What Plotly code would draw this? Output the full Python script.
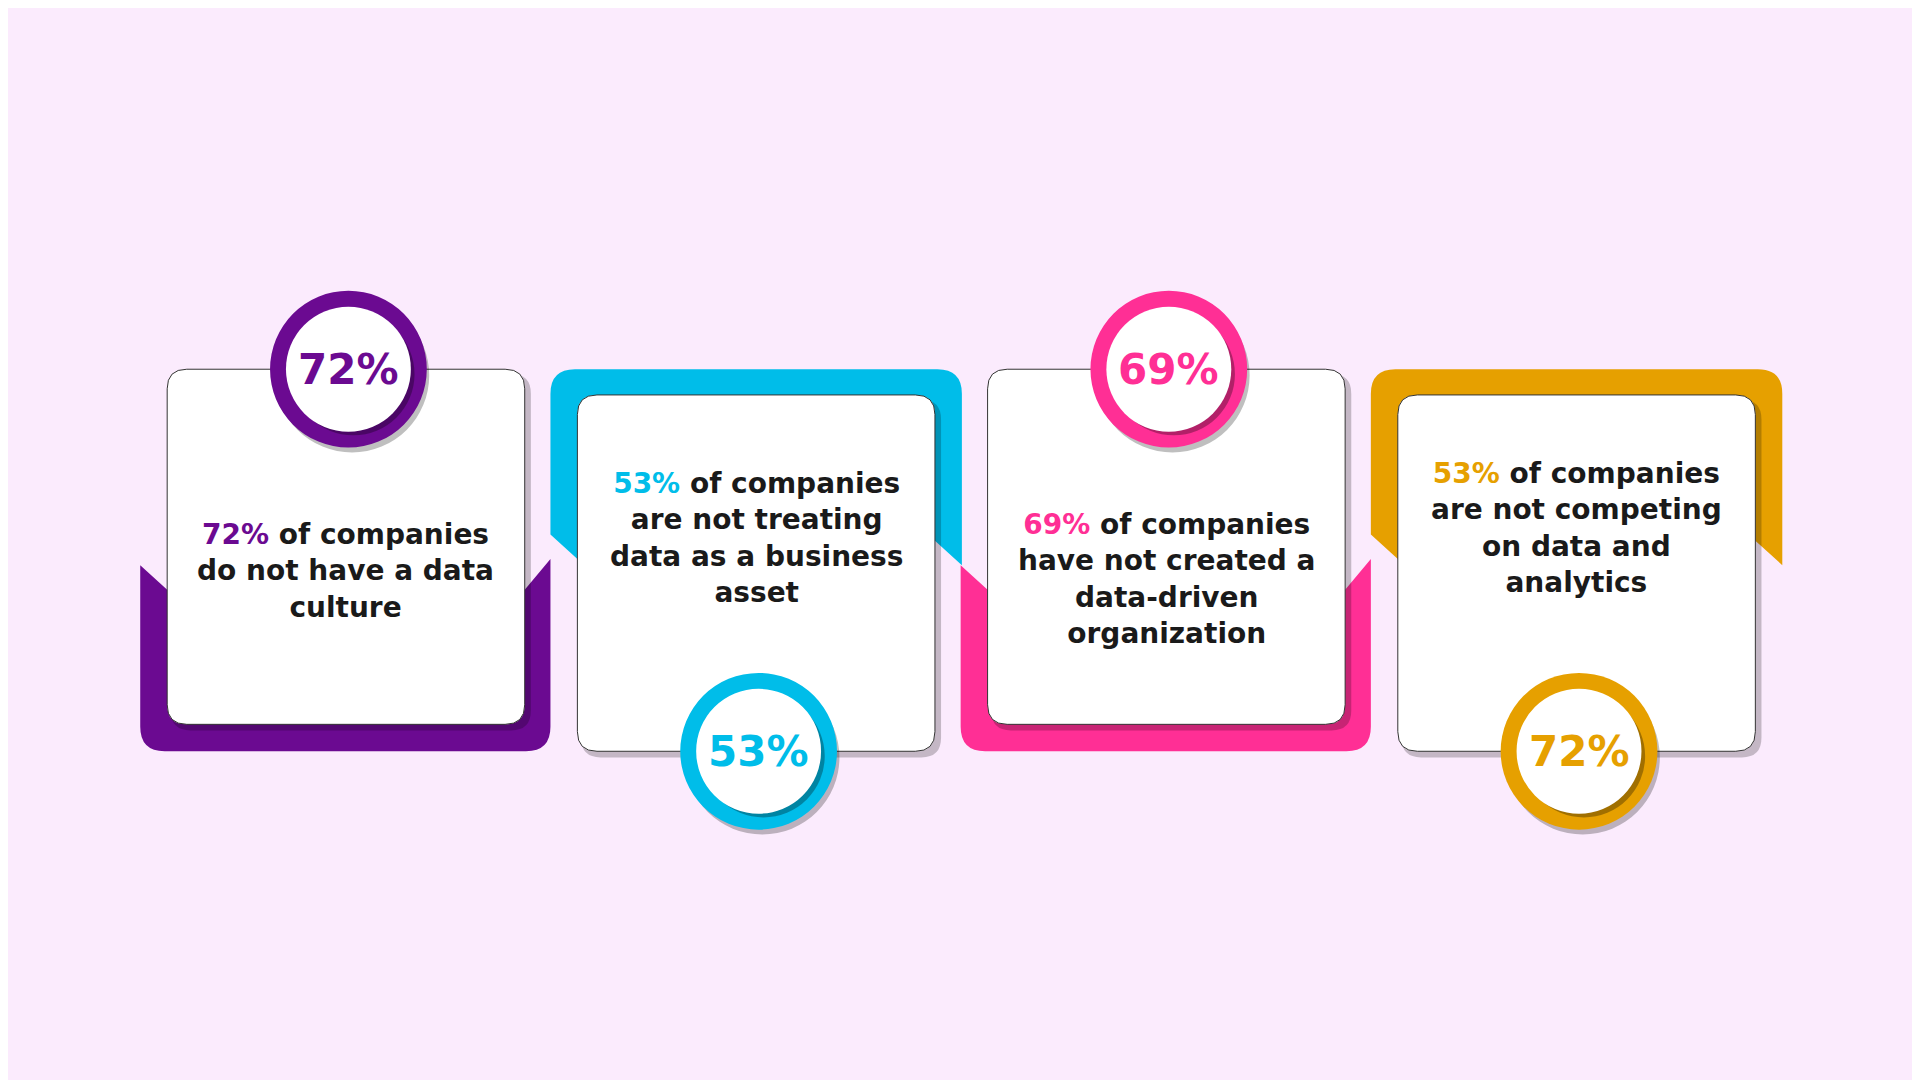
import plotly.graph_objects as go

pcts = ["72%", "53%", "69%", "72%"]
body_pcts = ["72%", "53%", "69%", "53%"]
texts = ["of companies<br>do not have a data<br>culture",
         "of companies<br>are not treating<br>data as a business<br>asset",
         "of companies<br>have not created a<br>data-driven<br>organization",
         "of companies<br>are not competing<br>on data and<br>analytics"]
colors = ["#6b0a91", "#00bde9", "#ff2f95", "#e6a000"]
text_y = [460, 433, 466, 425]

W, H = 1568, 882
fig = go.Figure()
shapes = []

def rrect(x0, y0, x1, y1, r):
    return (f"M {x0+r},{y0} L {x1-r},{y0} Q {x1},{y0} {x1},{y0+r} L {x1},{y1-r} "
            f"Q {x1},{y1} {x1-r},{y1} L {x0+r},{y1} Q {x0},{y1} {x0},{y1-r} "
            f"L {x0},{y0+r} Q {x0},{y0} {x0+r},{y0} Z")

for i in range(4):
    L = 130 + 335 * i
    R = L + 292
    even = i % 2 == 0
    top, bot = (295, 585) if even else (316, 607)
    c = colors[i]
    if even:
        p = (f"M {L-22},455 L {L},475 L {R},475 L {R+21},450 L {R+21},587 "
             f"Q {R+21},607 {R+1},607 L {L-2},607 Q {L-22},607 {L-22},587 Z")
    else:
        p = (f"M {L-22},315 Q {L-22},295 {L-2},295 L {R+2},295 Q {R+22},295 {R+22},315 "
             f"L {R+22},455 L {R},435 L {L},450 L {L-22},430 Z")
    shapes.append(dict(type="path", path=p, fillcolor=c, line=dict(width=0), layer="below"))
    shapes.append(dict(type="path", path=rrect(L+3, top+4, R+5, bot+5, 16),
                       fillcolor="rgba(0,0,0,0.22)", line=dict(width=0), layer="below"))
    shapes.append(dict(type="path", path=rrect(L, top, R, bot, 16),
                       fillcolor="white", line=dict(color="#333333", width=1), layer="below"))
    cx = (L + R) / 2 + 2
    cy = 295 if even else 607
    shapes.append(dict(type="circle", x0=cx-60, x1=cx+66, y0=cy-58, y1=cy+68,
                       fillcolor="rgba(0,0,0,0.25)", line=dict(width=0)))
    shapes.append(dict(type="circle", x0=cx-64, x1=cx+64, y0=cy-64, y1=cy+64,
                       fillcolor=c, line=dict(width=0)))
    shapes.append(dict(type="circle", x0=cx-46, x1=cx+54, y0=cy-46, y1=cy+54,
                       fillcolor="rgba(0,0,0,0.3)", line=dict(width=0)))
    shapes.append(dict(type="circle", x0=cx-51, x1=cx+51, y0=cy-51, y1=cy+51,
                       fillcolor="white", line=dict(width=0)))
    fig.add_annotation(x=cx, y=cy, text=f"<b>{pcts[i]}</b>", showarrow=False,
                       font=dict(size=42, color=c, family="DejaVu Sans"))
    fig.add_annotation(x=(L+R)/2, y=text_y[i], showarrow=False, align="center",
                       text=f"<b><span style='color:{c}'>{body_pcts[i]}</span> {texts[i]}</b>",
                       font=dict(size=28, color="#1a1a1a", family="DejaVu Sans"))

fig.update_layout(width=1920, height=1080, margin=dict(l=0, r=0, t=0, b=0),
                  paper_bgcolor="#fbebfd", plot_bgcolor="#fbebfd", shapes=shapes,
                  xaxis=dict(range=[0, W], visible=False),
                  yaxis=dict(range=[H, 0], visible=False), showlegend=False)
fig.write_html("out.html")
